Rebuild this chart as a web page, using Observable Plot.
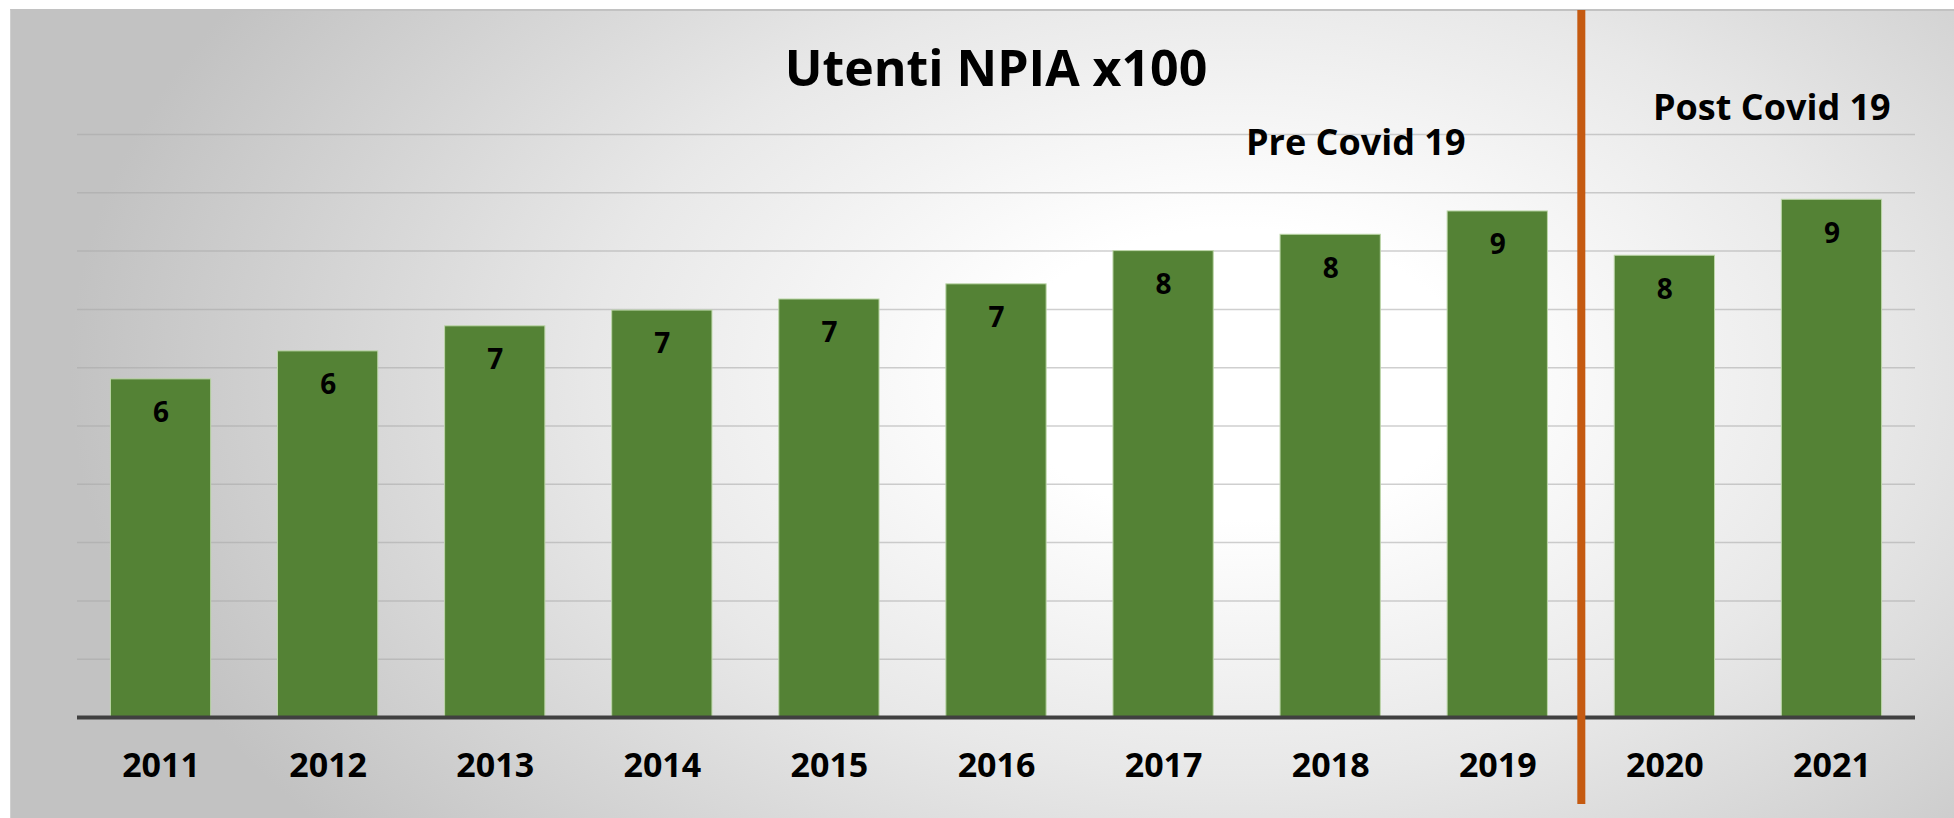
<!DOCTYPE html>
<html>
<head>
<meta charset="utf-8">
<script src="https://cdn.jsdelivr.net/npm/d3@7"></script>
<script src="https://cdn.jsdelivr.net/npm/@observablehq/plot@0.6"></script>
<style>
  html, body { margin: 0; padding: 0; background: #ffffff; }
  #wrap { position: relative; width: 1954px; height: 818px; overflow: hidden; }
  #panel {
    position: absolute; left: 10px; top: 9px; width: 1944px; height: 809px;
    border-top: 2px solid #c2c2c2; border-left: 1px solid #cfcfcf; box-sizing: border-box;
    background: radial-gradient(ellipse 60% 90% at 63% 45%, #ffffff 0%, #ffffff 20%, #e8e8e8 55%, #c2c2c2 100%);
  }
  #title {
    position: absolute; left: 77px; width: 1838px; top: 42px; text-align: center;
    font-family: "Open Sans", sans-serif; font-weight: bold; font-size: 50px; line-height: 50px; color: #000;
  }
  #chart { position: absolute; left: 0; top: 0; }
</style>
</head>
<body>
<div id="wrap">
  <div id="panel"></div>
  <div id="chart"></div>
  <div id="title">Utenti NPIA x100</div>
</div>
<script>
const years = [2011, 2012, 2013, 2014, 2015, 2016, 2017, 2018, 2019, 2020, 2021];
const values = [5.80, 6.28, 6.71, 6.98, 7.17, 7.43, 8.00, 8.28, 8.68, 7.92, 8.88];
const gridTicks = [1, 2, 3, 4, 5, 6, 7, 8, 9, 10];
const dividerYear = [2019.5];
const periodLabels = ["Pre Covid 19", "Post Covid 19"];
const periodX = [2018.15, 2020.64];
const periodY = [9.84, 10.45];

const data = years.map((year, i) => ({year, value: values[i], label: String(Math.round(values[i]))}));
const periods = periodLabels.map((label, i) => ({label, x: periodX[i], y: periodY[i]}));

const chart = Plot.plot({
  width: 1954,
  height: 818,
  marginLeft: 77,
  marginRight: 39,
  marginTop: 134,
  marginBottom: 101,
  style: {background: "transparent", fontFamily: "Open Sans, sans-serif", color: "#000", overflow: "visible"},
  x: {type: "linear", domain: [2010.5, 2021.5]},
  y: {domain: [0, 10], axis: null},
  marks: [
    Plot.ruleY(gridTicks, {stroke: "#a8a8a8", strokeOpacity: 0.55, strokeWidth: 1.5}),
    Plot.rectY(data, {x1: d => d.year - 0.3, x2: d => d.year + 0.3, y: "value", fill: "#548235", stroke: "#bcd6a8", strokeWidth: 1}),
    Plot.ruleY([0], {stroke: "#404040", strokeWidth: 4}),
    Plot.ruleX(dividerYear, {stroke: "#c55a11", strokeWidth: 8, insetTop: -124, insetBottom: -87}),
    Plot.text(data, {x: "year", y: "value", text: "label", lineAnchor: "top", dy: 23, fontSize: 28, fontWeight: "bold", fill: "#000"}),
    Plot.text(periods, {x: "x", y: "y", text: "label", lineAnchor: "middle", fontSize: 36, fontWeight: "bold", fill: "#000"}),
    Plot.axisX({ticks: years, tickFormat: d => String(d), tickSize: 0, tickPadding: 35, fontSize: 34, fontWeight: "bold", fill: "#000"})
  ]
});
document.getElementById("chart").appendChild(chart);
</script>
</body>
</html>
